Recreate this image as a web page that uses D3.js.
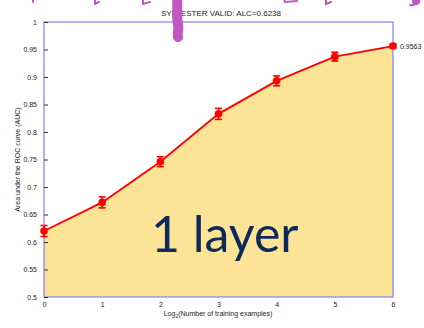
<!DOCTYPE html>
<html>
<head>
<meta charset="utf-8">
<script src="https://cdn.jsdelivr.net/npm/d3@7"></script>
<style>
  html, body { margin: 0; padding: 0; background: #ffffff; }
  svg { display: block; }
</style>
</head>
<body>
<script>
// Learning curve: AUC against log2 of the number of training examples
const xValues = [0, 1, 2, 3, 4, 5, 6];
const aucValues = [0.620, 0.672, 0.746, 0.833, 0.893, 0.937, 0.9563];
const aucErrors = [0.010, 0.010, 0.009, 0.010, 0.009, 0.008, 0.004];
const xTicks = [0, 1, 2, 3, 4, 5, 6];
const yTicks = [0.5, 0.55, 0.6, 0.65, 0.7, 0.75, 0.8, 0.85, 0.9, 0.95, 1];
const titleText = "SYLVESTER VALID: ALC=0.6238";
const lastLabel = "0.9563";
const overlayText = "1 layer";

const W = 424, H = 328;
const plot = { left: 44, right: 393, top: 22, bottom: 297 };

const svg = d3.select("body").append("svg")
  .attr("width", W).attr("height", H);

const x = d3.scaleLinear().domain([0, 6]).range([plot.left, plot.right]);
const y = d3.scaleLinear().domain([0.5, 1]).range([plot.bottom, plot.top]);

const pts = xValues.map((v, i) => ({ x: v, y: aucValues[i], e: aucErrors[i] }));

// shaded area under the curve
svg.append("path")
  .datum(pts)
  .attr("fill", "#fde396")
  .attr("d", d3.area().x(d => x(d.x)).y0(y(0.5)).y1(d => y(d.y)));

// axis frame
svg.append("rect")
  .attr("x", plot.left).attr("y", plot.top)
  .attr("width", plot.right - plot.left).attr("height", plot.bottom - plot.top)
  .attr("fill", "none").attr("stroke", "#7f7fff").attr("stroke-width", 1.2);

const axisFont = "Liberation Sans, Arial, sans-serif";

// y axis
const yAxis = svg.append("g")
  .attr("transform", `translate(${plot.left},0)`)
  .call(d3.axisLeft(y).tickValues(yTicks).tickSize(-4).tickPadding(7)
    .tickFormat(d => String(+d.toFixed(2))));
yAxis.select(".domain").remove();
yAxis.selectAll(".tick line").attr("stroke", "#333");
yAxis.selectAll(".tick text")
  .attr("font-family", axisFont).attr("font-size", 7).attr("fill", "#222");

// x axis
const xAxis = svg.append("g")
  .attr("transform", `translate(0,${plot.bottom})`)
  .call(d3.axisBottom(x).tickValues(xTicks).tickSize(0).tickPadding(5)
    .tickFormat(d3.format("d")));
xAxis.select(".domain").remove();
xAxis.selectAll(".tick text")
  .attr("font-family", axisFont).attr("font-size", 7).attr("fill", "#222");

// curve
svg.append("path")
  .datum(pts)
  .attr("fill", "none").attr("stroke", "#ff0000").attr("stroke-width", 1.8)
  .attr("d", d3.line().x(d => x(d.x)).y(d => y(d.y)));

// error bars
const eb = svg.append("g").attr("stroke", "#ff0000").attr("stroke-width", 1.6);
eb.selectAll("line.v").data(pts).join("line")
  .attr("x1", d => x(d.x)).attr("x2", d => x(d.x))
  .attr("y1", d => y(d.y - d.e)).attr("y2", d => y(d.y + d.e));
eb.selectAll("line.t").data(pts).join("line")
  .attr("x1", d => x(d.x) - 3.5).attr("x2", d => x(d.x) + 3.5)
  .attr("y1", d => y(d.y + d.e)).attr("y2", d => y(d.y + d.e));
eb.selectAll("line.b").data(pts).join("line")
  .attr("x1", d => x(d.x) - 3.5).attr("x2", d => x(d.x) + 3.5)
  .attr("y1", d => y(d.y - d.e)).attr("y2", d => y(d.y - d.e));

// markers
svg.append("g").selectAll("circle").data(pts).join("circle")
  .attr("cx", d => x(d.x)).attr("cy", d => y(d.y)).attr("r", 3.8)
  .attr("fill", "#ff0000");

// value label at the last point
svg.append("text")
  .attr("x", x(6) + 7).attr("y", y(aucValues[6]) + 2.5)
  .attr("font-family", axisFont).attr("font-size", 7).attr("fill", "#222")
  .text(lastLabel);

// title
svg.append("text")
  .attr("x", 161).attr("y", 16)
  .attr("font-family", axisFont).attr("font-size", 8).attr("fill", "#222")
  .text(titleText);

// axis titles
svg.append("text")
  .attr("transform", `translate(20,${(plot.top + plot.bottom) / 2}) rotate(-90)`)
  .attr("text-anchor", "middle")
  .attr("font-family", axisFont).attr("font-size", 7).attr("fill", "#222")
  .text("Area under the ROC curve (AUC)");

const xl = svg.append("text")
  .attr("x", 218).attr("y", 316).attr("text-anchor", "middle")
  .attr("font-family", axisFont).attr("font-size", 7).attr("fill", "#222");
xl.append("tspan").text("Log");
xl.append("tspan").attr("font-size", 5).attr("dy", 2).text("2");
xl.append("tspan").attr("dy", -2).text("(Number of training examples)");

// large overlay caption
svg.append("text")
  .attr("x", 151).attr("y", 252)
  .attr("font-family", "Lato, 'Open Sans', sans-serif")
  .attr("font-size", 50).attr("fill", "#0c2a5c")
  .text(overlayText);

// pen marks along the top edge
const ink = svg.append("g").attr("fill", "none").attr("stroke", "#c157c1")
  .attr("stroke-linecap", "round");
ink.append("path").attr("stroke-width", 10)
  .attr("d", "M177,-2 C178,8 176,16 178,24 C179,30 177,34 178,37");
const stubs = [
  "M33,-1 L33,2",
  "M95,-1 L95,4 L99,2",
  "M143,-1 L143,4 L150,2",
  "M284,-1 L285,2 L297,1",
  "M326,-1 L326,4 L331,2",
  "M410,5 C414,6 418,3 420,-1"
];
ink.selectAll("path.s").data(stubs).join("path")
  .attr("stroke-width", 2).attr("d", d => d);
ink.append("circle").attr("cx", 416).attr("cy", 1).attr("r", 4)
  .attr("fill", "#c157c1").attr("stroke", "none");
</script>
</body>
</html>
